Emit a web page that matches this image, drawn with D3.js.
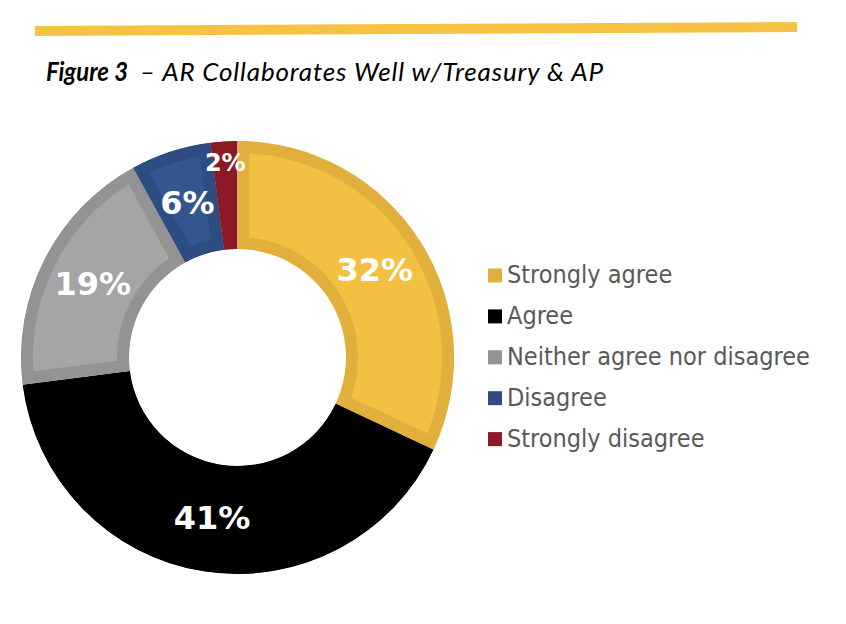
<!DOCTYPE html>
<html>
<head>
<meta charset="utf-8">
<script src="https://cdn.jsdelivr.net/npm/d3@7"></script>
<style>
  html, body { margin: 0; padding: 0; background: #fff; }
  svg { display: block; }
</style>
</head>
<body>
<div id="chart"></div>
<script>
// survey responses, clockwise from 12 o'clock
const categories = ['Strongly agree', 'Agree', 'Neither agree nor disagree', 'Disagree', 'Strongly disagree'];
const shares = [32, 41, 19, 6, 2];
const fills = ['#f4c042', '#000000', '#a5a5a5', '#34568f', '#8b1a26'];
const borders = ['#e1b03c', '#000000', '#939393', '#2d4c81', '#8b1a26'];

(function () {
  const width = 846, height = 624;
  const svg = d3.select('#chart').append('svg').attr('width', width).attr('height', height);

  // yellow rule across the top (slightly tilted, like the scan)
  svg.append('polygon')
    .attr('points', '35,26 797,22 797,32 35,36')
    .attr('fill', '#f6c244');

  // title: bold "Figure 3" then the caption, stretched to the original widths
  svg.append('text').attr('x', 46).attr('y', 81)
    .attr('textLength', 82).attr('lengthAdjust', 'spacingAndGlyphs')
    .style('font-family', 'Lato, "Open Sans", sans-serif').style('font-style', 'italic')
    .style('font-weight', 'bold').style('font-size', '26px').attr('fill', '#000')
    .text('Figure 3');
  svg.append('text').attr('x', 140).attr('y', 81)
    .attr('textLength', 463).attr('lengthAdjust', 'spacing')
    .style('font-family', 'Lato, "Open Sans", sans-serif').style('font-style', 'italic')
    .style('font-size', '26px').attr('fill', '#000')
    .text('– AR Collaborates Well w/Treasury & AP');

  // donut
  const cx = 237.5, cy = 357.5, rOuter = 216.5, rInner = 108.5;
  const g = svg.append('g').attr('transform', `translate(${cx},${cy})`);

  const data = categories.map((c, i) => ({ name: c, value: shares[i], i }));
  const pie = d3.pie().value(d => d.value).sort(null);
  const arc = d3.arc().innerRadius(rInner).outerRadius(rOuter);
  const arcs = pie(data);

  const defs = svg.append('defs');
  arcs.forEach((a, k) => {
    defs.append('clipPath').attr('id', 'clip' + k).append('path').attr('d', arc(a));
  });

  // each slice gets an inner border in a darker shade (Excel-style)
  g.selectAll('path.slice').data(arcs).join('path')
    .attr('class', 'slice')
    .attr('d', arc)
    .attr('fill', d => fills[d.data.i])
    .attr('stroke', d => borders[d.data.i])
    .attr('stroke-width', 24)
    .attr('stroke-linejoin', 'miter')
    .attr('clip-path', (d, k) => `url(#clip${k})`);

  // percentage labels
  const labelArc = d3.arc().innerRadius((rInner + rOuter) / 2).outerRadius((rInner + rOuter) / 2);
  const smallArc = d3.arc().innerRadius(rOuter - 22).outerRadius(rOuter - 22);
  g.selectAll('text.pct').data(arcs).join('text')
    .attr('class', 'pct')
    .attr('transform', d => `translate(${(d.data.value < 3 ? smallArc : labelArc).centroid(d)})`)
    .attr('text-anchor', 'middle')
    .attr('dominant-baseline', 'central')
    .style('font-family', '"DejaVu Sans", Verdana, sans-serif')
    .style('font-weight', 'bold')
    .style('font-size', d => d.data.value < 3 ? '24px' : '32px')
    .attr('fill', '#fff')
    .text(d => d.data.value + '%');

  // legend
  const legend = svg.append('g').attr('transform', 'translate(488,283)');
  const rows = legend.selectAll('g').data(data).join('g')
    .attr('transform', (d, i) => `translate(0,${i * 40.9})`);
  rows.append('rect').attr('x', 0).attr('y', -14.5).attr('width', 14).attr('height', 14)
    .attr('fill', d => fills[d.i] === '#000000' ? '#000' : borders[d.i]);
  rows.append('text').attr('x', 19).attr('y', 0)
    .style('font-family', '"DejaVu Sans Condensed", "DejaVu Sans", sans-serif')
    .style('font-stretch', 'condensed')
    .style('font-size', '25px')
    .attr('fill', '#595959')
    .text(d => d.name);
})();
</script>
</body>
</html>
